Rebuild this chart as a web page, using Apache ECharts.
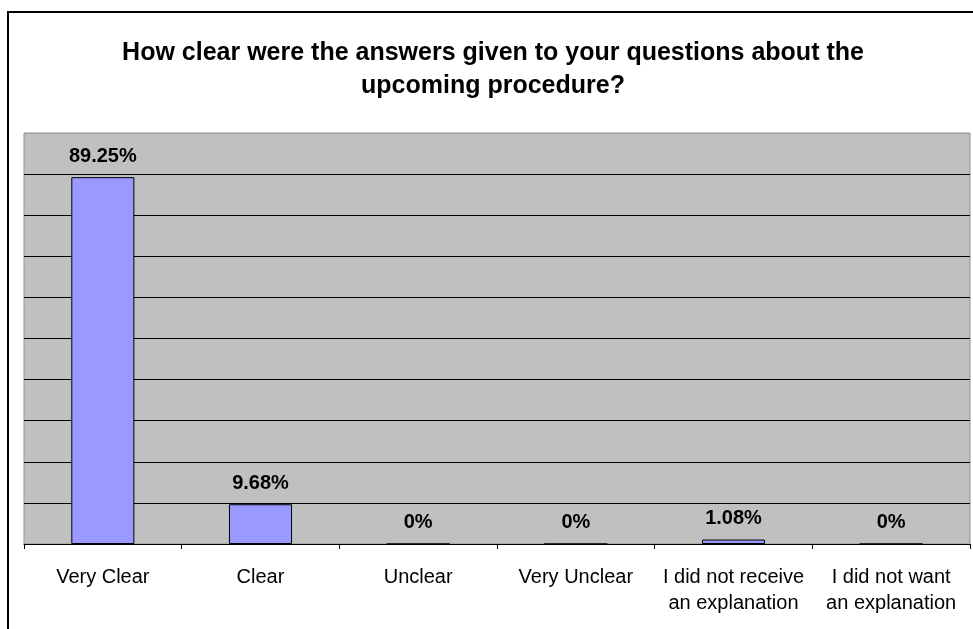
<!DOCTYPE html>
<html>
<head>
<meta charset="utf-8">
<script src="https://cdn.jsdelivr.net/npm/echarts@6/dist/echarts.min.js"></script>
<style>
html,body{margin:0;padding:0;background:#fff;}
#chart{width:973px;height:629px;}
</style>
</head>
<body>
<div id="chart"></div>
<script>
const titleText = "How clear were the answers given to your questions about the\nupcoming procedure?";
const categories = ["Very Clear", "Clear", "Unclear", "Very Unclear", "I did not receive\nan explanation", "I did not want\nan explanation"];
const values = [89.25, 9.68, 0, 0, 1.08, 0];
const yMin = 0, yMax = 100, yStep = 10;

const FONT = "'Liberation Sans', Arial, sans-serif";
const chart = echarts.init(document.getElementById('chart'), null, {renderer: 'canvas'});

const splitColors = [];
for (let v = yMin; v <= yMax; v += yStep) splitColors.push(v === yMax ? '#a0a0a0' : '#000000');

chart.setOption({
  animation: false,
  backgroundColor: '#ffffff',
  title: {
    text: titleText,
    left: 488,
    textAlign: 'center',
    top: 32,
    textStyle: {fontFamily: FONT, fontSize: 25, fontWeight: 'bold', color: '#000', lineHeight: 33}
  },
  graphic: [{
    type: 'rect',
    shape: {x: 8, y: 12, width: 1000, height: 700},
    style: {fill: 'none', stroke: '#000', lineWidth: 2},
    silent: true,
    z: 100
  }],
  grid: {
    left: 24, right: 3, top: 133, bottom: 85,
    show: true, backgroundColor: '#c0c0c0', borderColor: '#909090', borderWidth: 1
  },
  xAxis: {
    type: 'category',
    data: categories,
    boundaryGap: true,
    axisLine: {show: true, lineStyle: {color: '#000', width: 1}},
    axisTick: {show: true, length: 5, lineStyle: {color: '#000'}, alignWithLabel: false},
    axisLabel: {interval: 0, margin: 20, fontFamily: FONT, fontSize: 20, color: '#000', lineHeight: 26}
  },
  yAxis: {
    type: 'value',
    min: yMin, max: yMax, interval: yStep,
    axisLine: {show: false},
    axisTick: {show: false},
    axisLabel: {show: false},
    splitLine: {show: true, lineStyle: {color: splitColors, width: 1}}
  },
  series: [{
    type: 'bar',
    data: values,
    barWidth: '40%',
    itemStyle: {color: '#9999ff', borderColor: '#000', borderWidth: 1},
    label: {
      show: true, position: 'top', distance: 11,
      formatter: p => p.value + '%',
      fontFamily: FONT, fontSize: 20, fontWeight: 'bold', color: '#000', lineHeight: 20
    }
  }]
});
</script>
</body>
</html>
